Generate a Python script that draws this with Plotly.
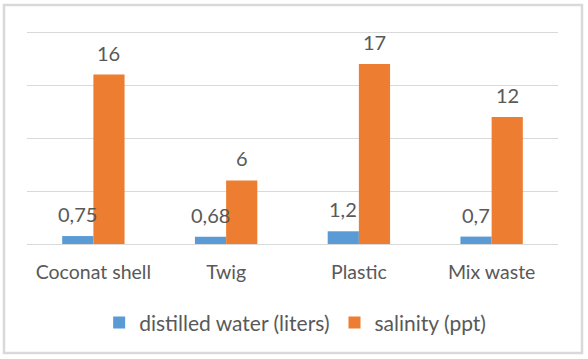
import plotly.graph_objects as go

categories = ["Coconat shell", "Twig", "Plastic", "Mix waste"]
distilled_water = [0.75, 0.68, 1.2, 0.7]
salinity = [16, 6, 17, 12]
dw_labels = ["0,75", "0,68", "1,2", "0,7"]
sal_labels = ["16", "6", "17", "12"]

FONT = "Lato"
TXT = "#595959"
BAR_HALF_OFFSET = 15.6  # px, half of a bar's width within a group

fig = go.Figure()
fig.add_trace(go.Bar(
    name="distilled water (liters)", x=categories, y=distilled_water,
    marker=dict(color="#5B9BD5", line=dict(width=0)),
))
fig.add_trace(go.Bar(
    name="salinity (ppt)", x=categories, y=salinity,
    marker=dict(color="#ED7D31", line=dict(width=0)),
))

annotations = []
for cat, v, t in zip(categories, distilled_water, dw_labels):
    annotations.append(dict(x=cat, y=v, xref="x", yref="y", text=t, showarrow=False,
                            xshift=-BAR_HALF_OFFSET, yshift=22, yanchor="middle",
                            font=dict(size=20, color=TXT, family=FONT)))
for cat, v, t in zip(categories, salinity, sal_labels):
    annotations.append(dict(x=cat, y=v, xref="x", yref="y", text=t, showarrow=False,
                            xshift=BAR_HALF_OFFSET, yshift=22, yanchor="middle",
                            font=dict(size=20, color=TXT, family=FONT)))

PH = 216.0
fig.update_layout(
    width=588, height=359,
    margin=dict(l=27, r=30, t=28, b=115, autoexpand=False),
    paper_bgcolor="white", plot_bgcolor="white",
    barmode="group", bargap=0.53, bargroupgap=0,
    font=dict(family=FONT, color=TXT, size=15),
    showlegend=True,
    legend=dict(orientation="h", x=0.505, xanchor="center", y=-0.365, yanchor="middle",
                font=dict(size=21, color=TXT, family=FONT), traceorder="normal"),
    xaxis=dict(showgrid=False, showline=False, ticks="", ticklabelstandoff=14,
               tickfont=dict(size=19.5, color=TXT, family=FONT)),
    yaxis=dict(range=[0, 20.4], tickvals=[0, 5, 10, 15, 20], showgrid=True,
               gridcolor="#D9D9D9", gridwidth=1,
               showticklabels=False, zeroline=True, zerolinecolor="#D9D9D9", zerolinewidth=1),
    annotations=annotations,
    shapes=[dict(type="rect", xref="paper", yref="paper",
                 x0=-23/531, x1=555/531, y0=-(353-244)/PH, y1=(244-5)/PH,
                 line=dict(color="#D9D9D9", width=2.5), fillcolor="rgba(0,0,0,0)", layer="below")],
)

fig.write_html("out.html", config={"displayModeBar": False},
               post_script="document.body.style.margin='0';document.body.style.padding='0';")
